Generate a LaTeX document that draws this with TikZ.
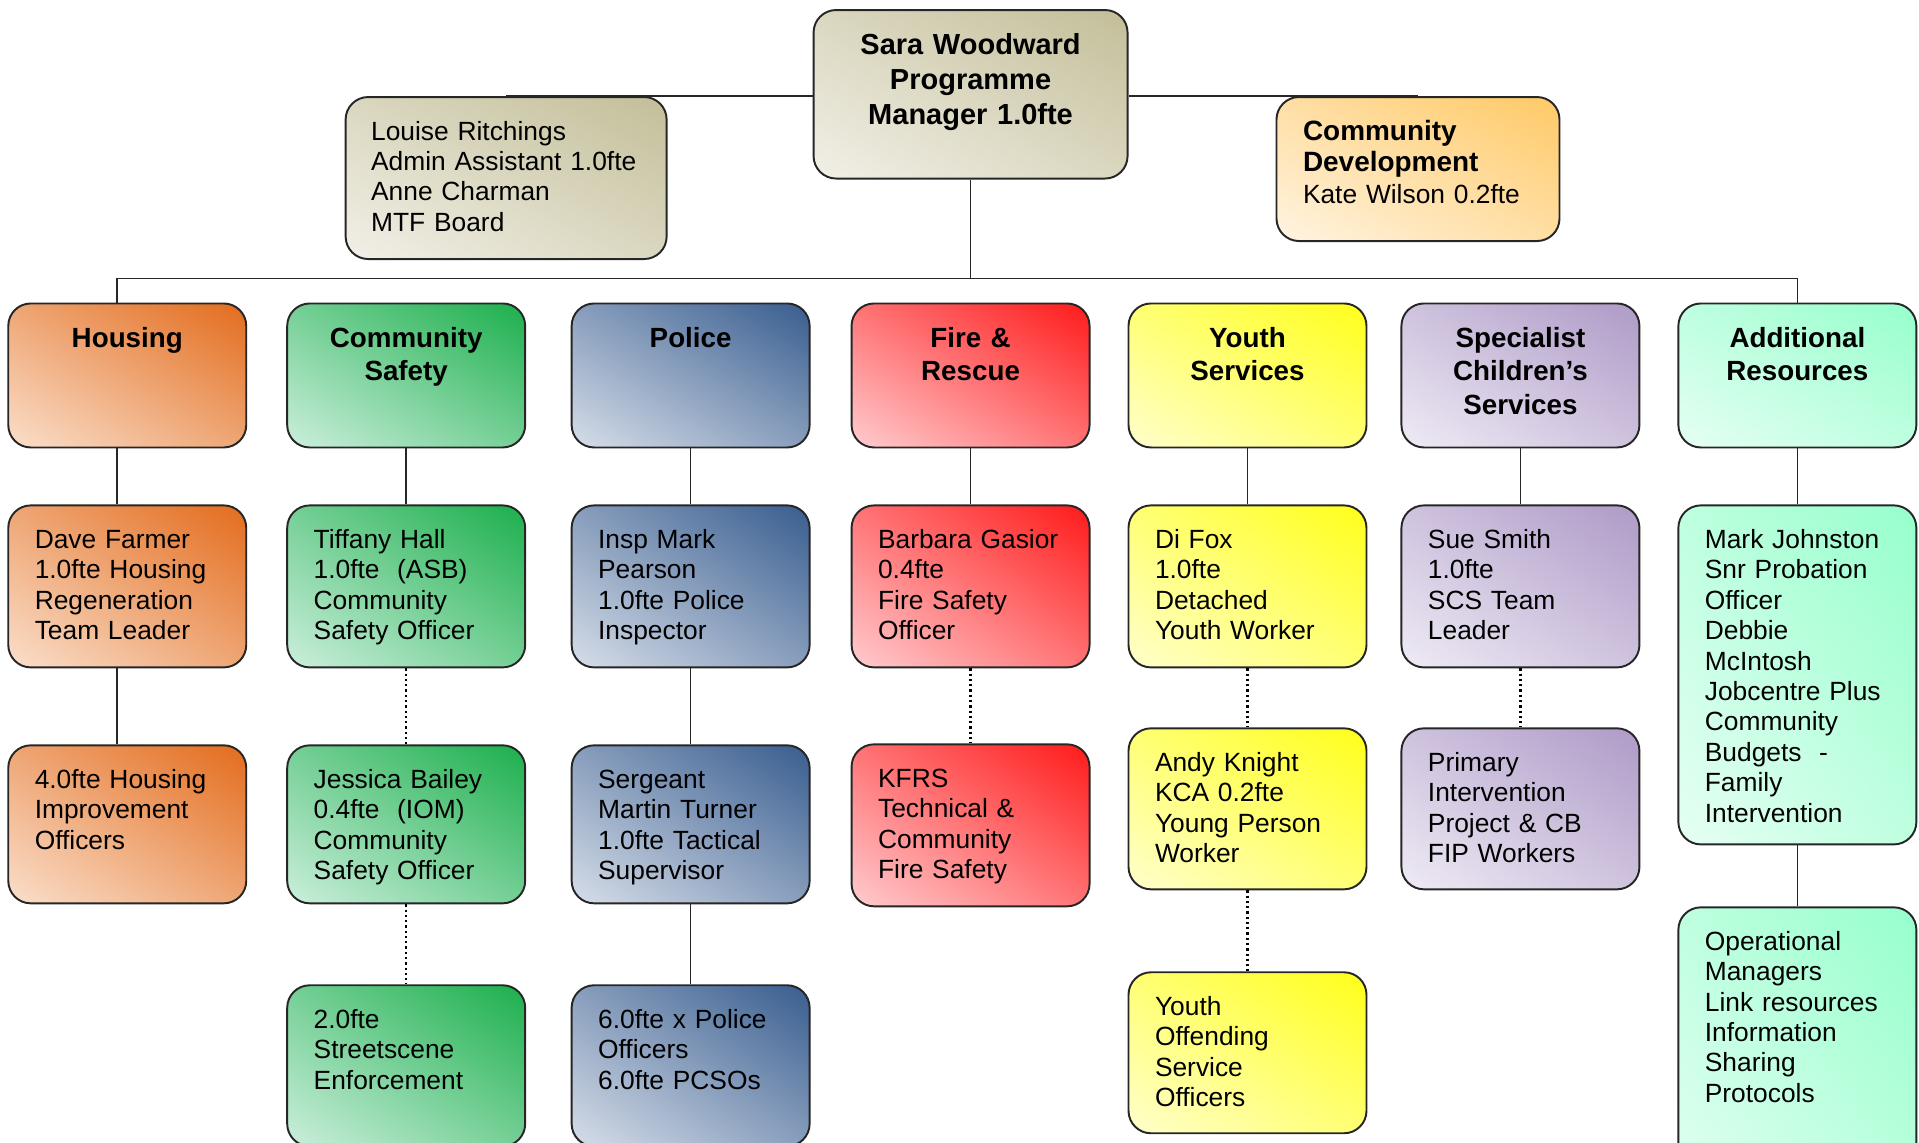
\documentclass[tikz,border=0pt]{standalone}
\usepackage{fontspec}
\setmainfont{Liberation Sans}
\usetikzlibrary{positioning,shadings}

\definecolor{mgrL}{HTML}{F2F0E8}\definecolor{mgrD}{HTML}{C3BE98}
\definecolor{cdevL}{HTML}{FFF4E2}\definecolor{cdevD}{HTML}{FFC966}
\definecolor{hsgL}{HTML}{FADFCB}\definecolor{hsgD}{HTML}{E36C1D}
\definecolor{csL}{HTML}{CCEFDD}\definecolor{csD}{HTML}{1CAF4C}
\definecolor{polL}{HTML}{D7DEE9}\definecolor{polD}{HTML}{385D8F}
\definecolor{frsL}{HTML}{FFCCCF}\definecolor{frsD}{HTML}{FF1A1A}
\definecolor{ythL}{HTML}{FFFFCC}\definecolor{ythD}{HTML}{FFFF1A}
\definecolor{scsL}{HTML}{EFEBF5}\definecolor{scsD}{HTML}{AE9AC7}
\definecolor{addL}{HTML}{E6FFF3}\definecolor{addD}{HTML}{96FFCC}

\newcommand{\bodyfont}{\fontsize{15}{17.3}\selectfont}
\newcommand{\headfont}{\fontsize{15.8}{19}\selectfont\bfseries}
\newcommand{\bossfont}{\fontsize{16.5}{19.8}\selectfont\bfseries}
\newcommand{\cdevfont}{\fontsize{15.9}{18}\selectfont\bfseries}

\tikzset{
  orgbox/.style={draw=black!85, line width=1.1pt, rounded corners=0.45cm,
    inner xsep=0.53cm, inner ysep=0.48cm, text width=3.7cm, text height=0.38cm},
  deptbox/.style={orgbox, font=\headfont, align=center, text height=0.4cm, text depth=1.52cm},
  staffbox/.style={orgbox, font=\bodyfont, align=left, text depth=#1},
  staffbox/.default=1.9cm,
  grad/.style 2 args={lower left=#1, upper right=#2,
    upper left=#1!50!#2, lower right=#1!50!#2},
  mgr/.style={grad={mgrL}{mgrD}},
  cdev/.style={grad={cdevL}{cdevD}},
  hsg/.style={grad={hsgL}{hsgD}},
  cs/.style={grad={csL}{csD}},
  pol/.style={grad={polL}{polD}},
  frs/.style={grad={frsL}{frsD}},
  yth/.style={grad={ythL}{ythD}},
  scs/.style={grad={scsL}{scsD}},
  add/.style={grad={addL}{addD}},
  link/.style={draw=black!85, line width=0.9pt},
  dots/.style={draw=black, line width=1.3pt, dash pattern=on 1.3pt off 1.7pt},
}

\begin{document}
\begin{tikzpicture}
  \useasboundingbox (0,0) rectangle (38.38,-22.86);

  % Department heads
  \node[deptbox, hsg, anchor=north west] at (0.146,-6.05) (hous) {Housing};
  \node[deptbox, cs, right=0.78cm of hous]    (comsaf) {Community\\Safety};
  \node[deptbox, pol, right=0.89cm of comsaf] (police) {Police};
  \node[deptbox, frs, right=0.8cm of police]  (fire)   {Fire \&\\Rescue};
  \node[deptbox, yth, right=0.74cm of fire]   (youth)  {Youth\\Services};
  \node[deptbox, scs, right=0.66cm of youth]  (scs)    {Specialist\\Children’s\\Services};
  \node[deptbox, add, right=0.74cm of scs]    (addres) {Additional\\Resources};

  % Management
  \node[staffbox=2.0cm, mgr, font=\bossfont, align=center, text width=5.22cm,
        text height=0.41cm, above=2.46cm of fire] (sara)
        {Sara Woodward\\Programme\\Manager 1.0fte};
  \node[staffbox, mgr, inner xsep=0.51cm, text width=5.4cm,
        below left=1.74cm and 2.9cm of sara.north west] (louise)
        {Louise Ritchings\\Admin Assistant 1.0fte\\Anne Charman\\MTF Board};
  \node[staffbox=1.54cm, cdev, font=\fontsize{15}{18}\selectfont, text width=4.6cm,
        below right=1.74cm and 2.94cm of sara.north east] (comdev)
        {{\cdevfont Community}\\{\cdevfont Development}\\Kate Wilson 0.2fte};

  % Staff
  \node[staffbox, hsg, below=1.12cm of hous] (hous1)
        {Dave Farmer\\1.0fte Housing\\Regeneration\\Team Leader};
  \node[staffbox=1.82cm, hsg, below=1.52cm of hous1] (hous2)
        {4.0fte Housing\\Improvement\\Officers};

  \node[staffbox, cs, below=1.12cm of comsaf] (comsaf1)
        {Tiffany Hall\\1.0fte\ \ (ASB)\\Community\\Safety Officer};
  \node[staffbox=1.82cm, cs, below=1.52cm of comsaf1] (comsaf2)
        {Jessica Bailey\\0.4fte\ \ (IOM)\\Community\\Safety Officer};
  \node[staffbox=1.88cm, cs, below=1.6cm of comsaf2] (comsaf3)
        {2.0fte\\Streetscene\\Enforcement};

  \node[staffbox, pol, below=1.12cm of police] (police1)
        {Insp Mark\\Pearson\\1.0fte Police\\Inspector};
  \node[staffbox=1.82cm, pol, below=1.52cm of police1] (police2)
        {Sergeant\\Martin Turner\\1.0fte Tactical\\Supervisor};
  \node[staffbox=1.88cm, pol, below=1.6cm of police2] (police3)
        {6.0fte x Police\\Officers\\6.0fte PCSOs};

  \node[staffbox, frs, below=1.12cm of fire] (fire1)
        {Barbara Gasior\\0.4fte\\Fire Safety\\Officer};
  \node[staffbox, frs, below=1.5cm of fire1] (fire2)
        {KFRS\\Technical \&\\Community\\Fire Safety};

  \node[staffbox, yth, below=1.12cm of youth] (youth1)
        {Di Fox\\1.0fte\\Detached\\Youth Worker};
  \node[staffbox=1.88cm, yth, below=1.18cm of youth1] (youth2)
        {Andy Knight\\KCA 0.2fte\\Young Person\\Worker};
  \node[staffbox=1.88cm, yth, below=1.62cm of youth2] (youth3)
        {Youth\\Offending\\Service\\Officers};

  \node[staffbox, scs, below=1.12cm of scs] (scs1)
        {Sue Smith\\1.0fte\\SCS Team\\Leader};
  \node[staffbox=1.88cm, scs, below=1.18cm of scs1] (scs2)
        {Primary\\Intervention\\Project \& CB\\FIP Workers};

  \node[staffbox=5.44cm, add, below=1.12cm of addres] (addres1)
        {Mark Johnston\\Snr Probation\\Officer\\Debbie\\McIntosh\\Jobcentre Plus\\Community\\Budgets\ \ -\\Family\\Intervention};
  \node[staffbox=5cm, add, below=1.22cm of addres1] (addres2)
        {Operational\\Managers\\Link resources\\Information\\Sharing\\Protocols};

  % Connect the nodes
  \coordinate[above=0.48cm of hous.north, xshift=-0.2cm] (bus);
  \draw[link] (louise.north) -- (louise.north -| sara.west);
  \draw[link] (comdev.north) -- (comdev.north -| sara.east);
  \draw[link] (sara.south) -- (sara.south |- bus);
  \draw[link] ([xshift=-0.2cm]hous.north) -- (bus) -| (addres.north);
  \draw[link] ([xshift=-0.2cm]hous.south) -- ([xshift=-0.2cm]hous1.north);
  \draw[link] ([xshift=-0.2cm]hous1.south) -- ([xshift=-0.2cm]hous2.north);
  \foreach \a/\b in {comsaf/comsaf1, police/police1, fire/fire1, youth/youth1,
      scs/scs1, addres/addres1, police1/police2, police2/police3, addres1/addres2}
    \draw[link] (\a) -- (\b);
  \foreach \a/\b in {comsaf1/comsaf2, comsaf2/comsaf3, fire1/fire2,
      youth1/youth2, youth2/youth3, scs1/scs2}
    \draw[dots] (\a) -- (\b);

\end{tikzpicture}
\end{document}
